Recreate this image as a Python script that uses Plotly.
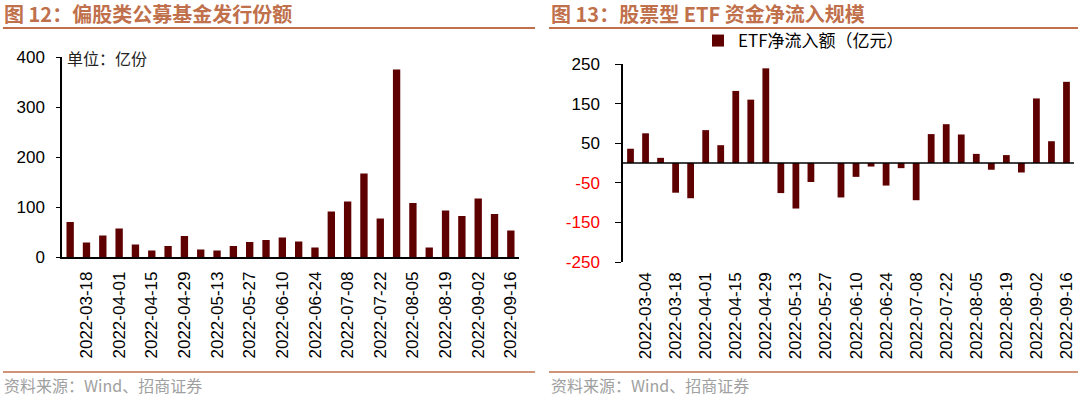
import plotly.graph_objects as go

# ---------------- data ----------------
left_dates = ["2022-03-11", "2022-03-18", "2022-03-25", "2022-04-01", "2022-04-08", "2022-04-15",
              "2022-04-22", "2022-04-29", "2022-05-06", "2022-05-13", "2022-05-20", "2022-05-27",
              "2022-06-03", "2022-06-10", "2022-06-17", "2022-06-24", "2022-07-01", "2022-07-08",
              "2022-07-15", "2022-07-22", "2022-07-29", "2022-08-05", "2022-08-12", "2022-08-19",
              "2022-08-26", "2022-09-02", "2022-09-09", "2022-09-16"]
left_values = [70, 29, 43, 57, 25, 13, 22, 42, 15, 13, 22, 30, 34, 39, 31, 19, 91, 111,
               167, 77, 375, 108, 19, 93, 82, 117, 86, 53]

right_dates = ["2022-02-25", "2022-03-04", "2022-03-11", "2022-03-18", "2022-03-25", "2022-04-01",
               "2022-04-08", "2022-04-15", "2022-04-22", "2022-04-29", "2022-05-06", "2022-05-13",
               "2022-05-20", "2022-05-27", "2022-06-03", "2022-06-10", "2022-06-17", "2022-06-24",
               "2022-07-01", "2022-07-08", "2022-07-15", "2022-07-22", "2022-07-29", "2022-08-05",
               "2022-08-12", "2022-08-19", "2022-08-26", "2022-09-02", "2022-09-09", "2022-09-16"]
right_values = [36, 75, 13, -75, -89, 83, 45, 182, 160, 239, -76, -115, -48, 0, -87, -35, -9,
                -57, -13, -94, 73, 98, 72, 23, -17, 20, -24, 163, 55, 205]

left_ticks = left_dates[1::2]
right_ticks = right_dates[1::2]
left_yticks = [0, 100, 200, 300, 400]
right_yticks = [-250, -150, -50, 50, 150, 250]

# ---------------- style ----------------
W, H = 1080, 397
BAR = "#5E0000"
ACCENT = "#C0704B"
FONT = "Liberation Sans, Arial, Noto Sans CJK SC, sans-serif"
CJK = "Noto Sans CJK SC, Liberation Sans, sans-serif"


def px(x):
    return x / W


def py(y):
    return 1 - y / H


fig = go.Figure()
fig.add_trace(go.Bar(x=left_dates, y=left_values, marker_color=BAR, xaxis="x", yaxis="y",
                     showlegend=False, name="偏股类公募基金发行份额"))
fig.add_trace(go.Bar(x=right_dates, y=right_values, marker_color=BAR, xaxis="x2", yaxis="y2",
                     showlegend=True, name="ETF净流入额（亿元）"))

right_ytext = [f"<span style='color:#FF0000'>{v}</span>" if v < 0 else str(v) for v in right_yticks]

fig.update_layout(
    template="none",
    width=W, height=H,
    margin=dict(l=0, r=0, t=0, b=0, pad=0, autoexpand=False),
    paper_bgcolor="white", plot_bgcolor="white",
    bargap=0.55,
    font=dict(family=FONT, size=17, color="#000000"),
    xaxis=dict(domain=[px(62), px(519)], anchor="y", type="category", automargin=False,
               categoryorder="array", categoryarray=left_dates,
               tickmode="array", tickvals=left_ticks, ticktext=left_ticks, tickangle=-90,
               showline=True, linecolor="#000000", linewidth=1.5, ticks="",
               showgrid=False, zeroline=False, ticklabelstandoff=6, tickfont=dict(size=17)),
    yaxis=dict(domain=[py(257), py(57)], anchor="x", range=[0, 400], automargin=False,
               tickmode="array", tickvals=left_yticks,
               showline=True, linecolor="#000000", linewidth=1.5,
               ticks="outside", ticklen=4, tickcolor="#000000", tickwidth=1,
               showgrid=False, zeroline=False, ticklabelstandoff=8, tickfont=dict(size=17)),
    xaxis2=dict(domain=[px(623), px(1074)], anchor="y2", type="category", automargin=False,
                categoryorder="array", categoryarray=right_dates,
                tickmode="array", tickvals=right_ticks, ticktext=right_ticks, tickangle=-90,
                showline=False, ticks="", showgrid=False, zeroline=False,
                ticklabelstandoff=6, tickfont=dict(size=17)),
    yaxis2=dict(domain=[py(262), py(64)], anchor="x2", range=[-250, 250], automargin=False,
                tickmode="array", tickvals=right_yticks, ticktext=right_ytext,
                showline=True, linecolor="#000000", linewidth=1.5,
                ticks="outside", ticklen=6, tickcolor="#000000", tickwidth=1,
                showgrid=False, zeroline=False,
                ticklabelstandoff=12, tickfont=dict(size=17)),
    legend=dict(x=px(698), y=py(41), xanchor="left", yanchor="middle",
                bgcolor="rgba(0,0,0,0)", borderwidth=0,
                font=dict(family=CJK, size=17, color="#000000"),
                itemwidth=30, tracegroupgap=0),
)

# zero line on top of bars (right chart)
fig.add_shape(type="line", xref="x2 domain", yref="y2", x0=0, x1=1, y0=0, y1=0,
              line=dict(color="#000000", width=1.5), layer="above")

# titles
fig.add_annotation(text="<b>图 12：偏股类公募基金发行份额</b>", xref="paper", yref="paper",
                   x=px(2), y=py(13), xanchor="left", yanchor="middle", showarrow=False,
                   font=dict(family=CJK, size=20, color=ACCENT))
fig.add_annotation(text="<b>图 13：股票型 ETF 资金净流入规模</b>", xref="paper", yref="paper",
                   x=px(549), y=py(13), xanchor="left", yanchor="middle", showarrow=False,
                   font=dict(family=CJK, size=20, color=ACCENT))
# unit label
fig.add_annotation(text="单位：亿份", xref="paper", yref="paper",
                   x=px(65), y=py(58), xanchor="left", yanchor="middle", showarrow=False,
                   font=dict(family=CJK, size=16, color="#222222"))
# sources
for x0 in (2, 549):
    fig.add_annotation(text="资料来源：Wind、招商证券", xref="paper", yref="paper",
                       x=px(x0), y=py(385), xanchor="left", yanchor="middle", showarrow=False,
                       font=dict(family=CJK, size=16, color="#A0A0A0"))

# decorative rules
for (x0, x1) in ((3, 535), (549, 1078)):
    fig.add_shape(type="line", xref="paper", yref="paper", x0=px(x0), x1=px(x1),
                  y0=py(28), y1=py(28), line=dict(color=ACCENT, width=2))
    fig.add_shape(type="line", xref="paper", yref="paper", x0=px(x0), x1=px(x1),
                  y0=py(372), y1=py(372), line=dict(color=ACCENT, width=1.5))

post = ("var d=document.getElementById('{plot_id}');"
        "d.style.position='fixed';d.style.top='0px';d.style.left='0px';"
        "document.documentElement.style.overflow='hidden';"
        "document.body.style.margin='0';document.body.style.overflow='hidden';")

fig.write_html("out.html", config={"displayModeBar": False}, post_script=post)
